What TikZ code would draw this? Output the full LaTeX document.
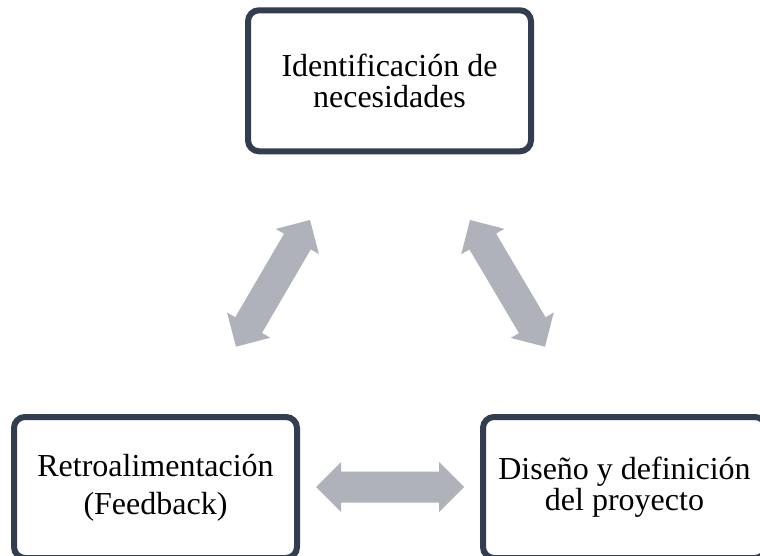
\documentclass[tikz,border=0pt]{standalone}
\usepackage{fontspec}
\setmainfont{Liberation Serif}
\usetikzlibrary{calc}
\definecolor{boxline}{RGB}{50,62,79}
\definecolor{arrowgray}{RGB}{175,178,186}
\begin{document}
\begin{tikzpicture}[x=1pt,y=1pt,
  stagebox/.style={draw=boxline, line width=6pt, rounded corners=11pt,
    minimum width=283pt, minimum height=141pt, inner sep=0pt,
    align=center, fill=white, text=black},
  tightlines/.style={font=\fontsize{32}{31}\selectfont},
  widelines/.style={font=\fontsize{32}{38}\selectfont},
  blockarrow/.style={fill=arrowgray, draw=none, to path={
    -- ($(\tikztostart)!35.355pt!45:(\tikztotarget)$)
    -- ($(\tikztostart)!29.415pt!31.8:(\tikztotarget)$)
    -- ($(\tikztotarget)!29.415pt!-31.8:(\tikztostart)$)
    -- ($(\tikztotarget)!35.355pt!-45:(\tikztostart)$)
    -- (\tikztotarget)
    -- ($(\tikztotarget)!35.355pt!45:(\tikztostart)$)
    -- ($(\tikztotarget)!29.415pt!31.8:(\tikztostart)$)
    -- ($(\tikztostart)!29.415pt!-31.8:(\tikztotarget)$)
    -- ($(\tikztostart)!35.355pt!-45:(\tikztotarget)$)
    -- cycle}}]
\path[use as bounding box, fill=white] (0,0) rectangle (760,555);

\node[stagebox, tightlines] (ident) at (389.5,474.2) {Identificación de\\necesidades};
\node[stagebox, widelines] (retro) at (155.5,67.5) {Retroalimentación\\(Feedback)};
\node[stagebox, tightlines] (disenio) at (624.5,67.5) {Diseño y definición\\del proyecto};

\coordinate (l1) at (236,208.3);
\coordinate (l2) at (310,335);
\coordinate (r1) at (470,335);
\coordinate (r2) at (545,208.3);
\coordinate (h1) at (316,68);
\coordinate (h2) at (464,68);

\path[blockarrow] (l1) to (l2);
\path[blockarrow] (r1) to (r2);
\path[blockarrow] (h1) to (h2);
\end{tikzpicture}
\end{document}
